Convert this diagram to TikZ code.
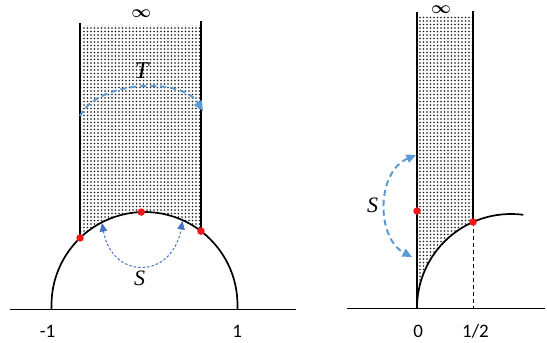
\documentclass[tikz,border=0pt]{standalone}
\usepackage{fontspec}
\setmainfont{Liberation Serif}
\newfontfamily\labfont{Carlito}
\usetikzlibrary{arrows.meta,patterns}
\pgfdeclarepatternformonly{mydots}{\pgfqpoint{-1pt}{-1pt}}{\pgfqpoint{1pt}{1pt}}{\pgfqpoint{3.5pt}{3.5pt}}{%
  \pgfpathcircle{\pgfqpoint{0pt}{0pt}}{0.8pt}\pgfusepath{fill}}
\definecolor{lblue}{HTML}{5B9BD5}
\definecolor{dblue}{HTML}{4472C4}
\definecolor{dotred}{HTML}{F01818}
\tikzset{
  region/.style={pattern=mydots, pattern color=black!90},
  wall/.style={line width=2.6pt},
  curve/.style={line width=1.7pt},
  axis/.style={line width=0.9pt},
  reddot/.style={circle, fill=dotred, inner sep=0pt, minimum size=7.5pt},
  numlab/.style={font=\labfont\fontsize{19}{19}\selectfont},
  letterT/.style={font=\fontsize{24}{24}\selectfont\itshape},
  letterS/.style={font=\fontsize{22}{22}\selectfont\itshape},
  inflab/.style={font=\fontsize{19}{19}\selectfont\boldmath, inner sep=0pt},
  thickarrow/.style={lblue, line width=2pt, dash pattern=on 6pt off 4pt},
  thinarrow/.style={dblue, line width=1pt, dash pattern=on 2.5pt off 2pt},
  bigtip/.style={-{Triangle[length=10pt,width=9pt]}},
}
\begin{document}
\begin{tikzpicture}[x=1pt,y=-1pt]
\useasboundingbox (0,0) rectangle (547,343);

% ---------- left figure ----------
\coordinate (LAbot) at (80.04,237.96);
\coordinate (LBbot) at (200.99,231.12);
\coordinate (LTop) at (141.25,212.06);
\coordinate (LAtop) at (80.04,23);
\coordinate (LBtop) at (200.99,21);
\coordinate (LaxL) at (10,309);
\coordinate (LaxR) at (296,309);
\coordinate (Lp1) at (237.4,309);

\fill[region] (80.04,25) -- (200.99,25) -- (LBbot)
  arc[start angle=-52.6, end angle=-133.9, radius=93] -- cycle;
\draw[axis] (LaxL) -- (LaxR);
\draw[curve] (Lp1) arc[start angle=2.465, end angle=-182.465, radius=93];
\draw[wall] (LAtop) -- (LAbot);
\draw[wall] (LBtop) -- (LBbot);

\coordinate (T1) at (80,116);
\coordinate (T2) at (203,111);
\draw[thickarrow, bigtip] (T1) .. controls (98,80) and (182,77) .. (T2);

\coordinate (LS1) at (102,223);
\coordinate (LS2) at (182.5,221);
\draw[thinarrow, {Triangle[length=8.5pt,width=7.5pt]}-{Triangle[length=8.5pt,width=7.5pt]}]
  (LS1) .. controls (112,280) and (172,280) .. (LS2);

\node[reddot] (dLA) at (LAbot) {};
\node[reddot] (dLB) at (LBbot) {};
\node[reddot] (dLT) at (LTop) {};

\node[inflab] (infL) at (141.2,14) {$\infty$};
\node[letterT] (labT) at (141.7,71) {T};
\node[letterS] (labSL) at (139.7,278.5) {S};
\node[numlab] (labm1) at (47.5,331) {-1};
\node[numlab] (labp1) at (237.3,331) {1};

% ---------- right figure ----------
\coordinate (RaxL) at (347,308.3);
\coordinate (RaxR) at (545,308.3);
\coordinate (R0) at (417,308.3);
\coordinate (R0top) at (417,12);
\coordinate (RBtop) at (473.07,11);
\coordinate (RBbot) at (473.07,221.99);
\coordinate (RBax) at (473.07,308.3);
\coordinate (RAdot) at (417,211);

\fill[region] (417,15) -- (473.07,15) -- (RBbot)
  arc[start angle=-113.8, end angle=-180, radius=94] -- cycle;
\draw[axis] (RaxL) -- (RaxR);
\draw[curve] (417,308) arc[start angle=-180, end angle=-82.5, radius=94];
\draw[wall] (R0top) -- (R0);
\draw[wall] (RBtop) -- (RBbot);
\draw[line width=0.9pt, dash pattern=on 4pt off 3pt] (RBbot) -- (RBax);

\coordinate (RS1) at (416,155);
\coordinate (RS2) at (412,257);
\draw[thickarrow, {Triangle[length=9.5pt,width=8.5pt]}-{Triangle[length=9.5pt,width=8.5pt]}]
  (RS1) .. controls (376,172) and (376,238) .. (RS2);

\node[reddot] (dRA) at (RAdot) {};
\node[reddot] (dRB) at (RBbot) {};

\node[inflab] (infR) at (441,10) {$\infty$};
\node[letterS] (labSR) at (372.7,205) {S};
\node[numlab] (lab0) at (418.3,331) {0};
\node[numlab] (labh) at (475.5,331) {1/2};
\end{tikzpicture}
\end{document}
